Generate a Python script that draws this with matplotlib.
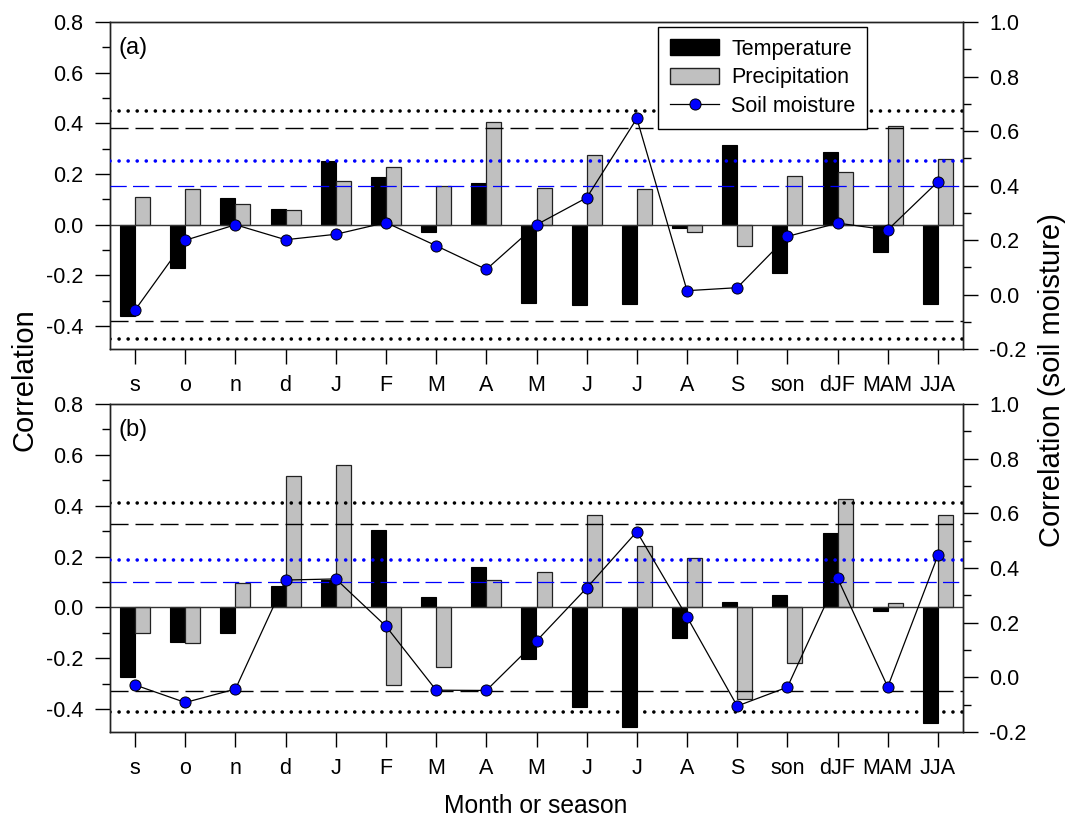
"""
Correlations of temperature, precipitation and soil moisture by month or season
"""
import numpy as np
import matplotlib
matplotlib.use('Agg')
import matplotlib.pyplot as plt
from matplotlib.lines import Line2D
from matplotlib.patches import Patch
from matplotlib.ticker import MultipleLocator, FormatStrFormatter

plt.rcParams['font.family'] = ['Liberation Sans', 'DejaVu Sans']
plt.rcParams['axes.unicode_minus'] = False

labels = ['s', 'o', 'n', 'd', 'J', 'F', 'M', 'A', 'M', 'J', 'J', 'A', 'S',
          'son', 'dJF', 'MAM', 'JJA']

# panel (a)
temp_a = [-0.36, -0.17, 0.105, 0.064, 0.25, 0.188, -0.028, 0.166, -0.308,
          -0.318, -0.313, -0.013, 0.314, -0.189, 0.287, -0.108, -0.314]
prec_a = [0.11, 0.142, 0.082, 0.058, 0.174, 0.228, 0.154, 0.404, 0.146,
          0.275, 0.141, -0.03, -0.082, 0.192, 0.208, 0.388, 0.261]
soil_a = [-0.057, 0.199, 0.256, 0.201, 0.221, 0.264, 0.179, 0.092, 0.256,
          0.355, 0.646, 0.014, 0.025, 0.213, 0.262, 0.237, 0.414]
sig_a = [0.38, 0.45]          # left-axis thresholds (dashed, dotted)
sig_soil_a = [0.40, 0.49]     # right-axis thresholds (dashed, dotted)

# panel (b)
temp_b = [-0.272, -0.136, -0.10, 0.085, 0.109, 0.304, 0.042, 0.159, -0.203,
          -0.39, -0.472, -0.121, 0.022, 0.047, 0.291, -0.013, -0.453]
prec_b = [-0.101, -0.14, 0.096, 0.516, 0.559, -0.307, -0.235, 0.109, 0.138,
          0.362, 0.243, 0.193, -0.362, -0.218, 0.427, 0.018, 0.365]
soil_b = [-0.028, -0.092, -0.043, 0.356, 0.36, 0.187, -0.047, -0.048, 0.133,
          0.327, 0.533, 0.221, -0.105, -0.036, 0.363, -0.035, 0.446]
sig_b = [0.33, 0.41]
sig_soil_b = [0.35, 0.43]

FS = 15.5
DOT = (0, (0.01, 2.5))
DASH = (0, (13, 5))
W, H = 1071, 817


def draw_panel(ax, temp, prec, soil, sig, sig_soil, tag):
    x = np.arange(len(labels))
    w = 0.3
    ax.bar(x - w / 2, temp, w, color='black', edgecolor='black', linewidth=0.8, zorder=2)
    ax.bar(x + w / 2, prec, w, color='#c0c0c0', edgecolor='#222222', linewidth=0.9, zorder=2)
    ax.axhline(0, color='#333333', lw=1.0, zorder=3)
    ax.set_xlim(-0.5, len(labels) - 0.5)
    ax.set_xticks(x)
    ax.set_xticklabels(labels, fontsize=FS)
    ax.yaxis.set_major_locator(MultipleLocator(0.2))
    ax.yaxis.set_minor_locator(MultipleLocator(0.1))
    ax.yaxis.set_major_formatter(FormatStrFormatter('%.1f'))
    ax.tick_params(axis='x', length=11, width=1, pad=8, labelsize=FS)
    ax.tick_params(axis='y', which='major', length=11, width=1, pad=8, labelsize=FS)
    ax.tick_params(axis='y', which='minor', length=6, width=1)
    ax.set_ylim(-0.49, 0.8)
    ax.text(0.0095, 0.955, tag, transform=ax.transAxes, fontsize=17, va='top', ha='left')

    ax2 = ax.twinx()
    ax2.set_ylim(-0.2, 1.0)
    ax2.yaxis.set_major_locator(MultipleLocator(0.2))
    ax2.yaxis.set_minor_locator(MultipleLocator(0.1))
    ax2.yaxis.set_major_formatter(FormatStrFormatter('%.1f'))
    ax2.tick_params(axis='y', which='major', length=11, width=1, pad=8, labelsize=FS)
    ax2.tick_params(axis='y', which='minor', length=6, width=1)

    # significance levels
    for s in (1, -1):
        ax.axhline(s * sig[0], color='black', lw=1.0, ls=DASH, zorder=4)
        ax.axhline(s * sig[1], color='black', lw=2.6, ls=DOT, dash_capstyle='round', zorder=4)
    ax2.axhline(sig_soil[0], color='blue', lw=0.9, ls=DASH, zorder=4)
    ax2.axhline(sig_soil[1], color='blue', lw=2.6, ls=DOT, dash_capstyle='round', zorder=4)

    ax2.plot(x, soil, color='black', lw=0.9, marker='o', ms=8,
             mfc='blue', mec='black', mew=0.7, zorder=5)

    for a in (ax, ax2):
        for sp in a.spines.values():
            sp.set_linewidth(1.0)
            sp.set_color('#222222')
    return ax2


fig = plt.figure(figsize=(W / 100, H / 100), dpi=100)
left, width = 110 / W, 853 / W
ax_a = fig.add_axes([left, 1 - 349 / H, width, 327 / H])
ax_b = fig.add_axes([left, 1 - 732 / H, width, 328 / H])

draw_panel(ax_a, temp_a, prec_a, soil_a, sig_a, sig_soil_a, '(a)')
draw_panel(ax_b, temp_b, prec_b, soil_b, sig_b, sig_soil_b, '(b)')

handles = [Patch(facecolor='black', edgecolor='black'),
           Patch(facecolor='#c0c0c0', edgecolor='#222222'),
           Line2D([], [], color='black', lw=0.9, marker='o', ms=8,
                  mfc='blue', mec='black', mew=0.7)]
leg = fig.legend(handles, ['Temperature', 'Precipitation', 'Soil moisture'],
                 loc='upper left', bbox_to_anchor=(658 / W, 1 - 27 / H),
                 borderaxespad=0, fontsize=FS, frameon=True, fancybox=False,
                 edgecolor='black', framealpha=1, handlelength=2.3,
                 handleheight=0.75, borderpad=0.55, labelspacing=0.35,
                 handletextpad=0.55)
leg.get_frame().set_linewidth(1.0)

fig.text(24 / W, 1 - 380 / H, 'Correlation', rotation=90,
         ha='center', va='center', fontsize=21)
fig.text(1052 / W, 1 - 380 / H, 'Correlation (soil moisture)', rotation=90,
         ha='center', va='center', fontsize=21)
fig.text(536 / W, 1 - 806 / H, 'Month or season', ha='center', va='center',
         fontsize=17.7)

fig.savefig('out.png', dpi=100)
